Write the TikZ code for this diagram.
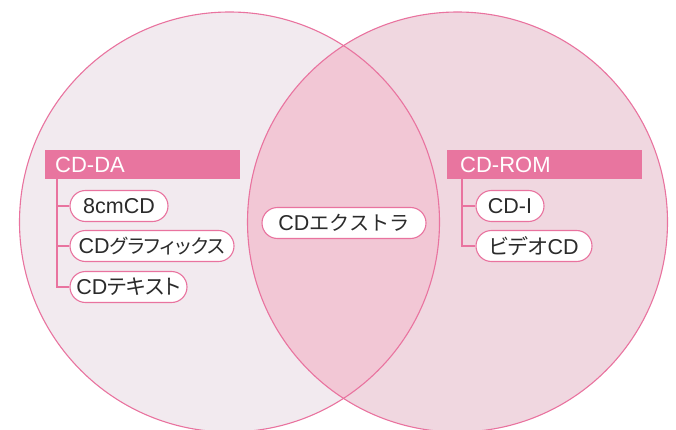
\documentclass[tikz,border=0pt]{standalone}
\usepackage{fontspec}
\setmainfont{Liberation Sans}
\newfontfamily\cjk[RawFeature=+palt,Scale=0.98]{Noto Sans CJK JP}
\newfontfamily\cjknarrow[RawFeature=+palt,Scale=0.91]{Noto Sans CJK JP}
\newfontfamily\cjkwide[Scale=0.94]{Noto Sans CJK JP}
\definecolor{leftfill}{HTML}{F2EAEF}
\definecolor{rightfill}{HTML}{F0D7E0}
\definecolor{midfill}{HTML}{F2C7D5}
\definecolor{pinkline}{HTML}{E9739F}
\definecolor{barfill}{HTML}{E8759F}
\definecolor{txt}{HTML}{2B2B2B}
\tikzset{
  pill/.style={draw=pinkline, line width=1.1pt, fill=white, rounded corners=15.5pt,
    minimum height=31pt, inner sep=0pt, text=txt, font=\fontsize{21.5}{24}\selectfont},
  bar/.style={fill=barfill, anchor=west, minimum height=29pt, inner xsep=10pt, inner ysep=0pt,
    text width=175pt, align=left, text=white, font=\fontsize{22}{24}\selectfont},
  tree/.style={draw=pinkline, line width=1.1pt},
  ring/.style={draw=pinkline, line width=1.1pt}
}
\begin{document}
\begin{tikzpicture}[x=1pt,y=-1pt]
\useasboundingbox (0,0) rectangle (676,430);
% circles
\fill[leftfill] (229.5,222) circle (210);
\fill[rightfill] (457.5,222) circle (210);
\begin{scope}
  \clip (229.5,222) circle (210);
  \fill[midfill] (457.5,222) circle (210);
\end{scope}
\draw[ring] (229.5,222) circle (210);
\draw[ring] (457.5,222) circle (210);
% left group
\node[bar] (cdda) at (45,164.5) {CD-DA};
\node[pill, minimum width=98pt] (p1) at (119,206) {8cmCD};
\node[pill, minimum width=164pt] (p2) at (152,246) {CD{\cjknarrow グラフィックス}};
\node[pill, minimum width=117pt] (p3) at (128.5,287) {CD{\cjk テキスト}};
\draw[tree] ([xshift=12pt]cdda.south west) |- (p1.west);
\draw[tree] ([xshift=12pt]cdda.south west) |- (p2.west);
\draw[tree] ([xshift=12pt]cdda.south west) |- (p3.west);
% middle
\node[pill, minimum width=164pt] (ex) at (344,223) {CD{\cjkwide エクストラ}};
% right group
\node[bar, inner xsep=13pt, text width=169pt] (cdrom) at (447,164.5) {CD-ROM};
\node[pill, minimum width=68pt] (r1) at (510,206) {CD-I};
\node[pill, minimum width=116pt] (r2) at (534,246) {{\cjk ビデオ}CD};
\draw[tree] ([xshift=15pt]cdrom.south west) |- (r1.west);
\draw[tree] ([xshift=15pt]cdrom.south west) |- (r2.west);
\end{tikzpicture}
\end{document}
